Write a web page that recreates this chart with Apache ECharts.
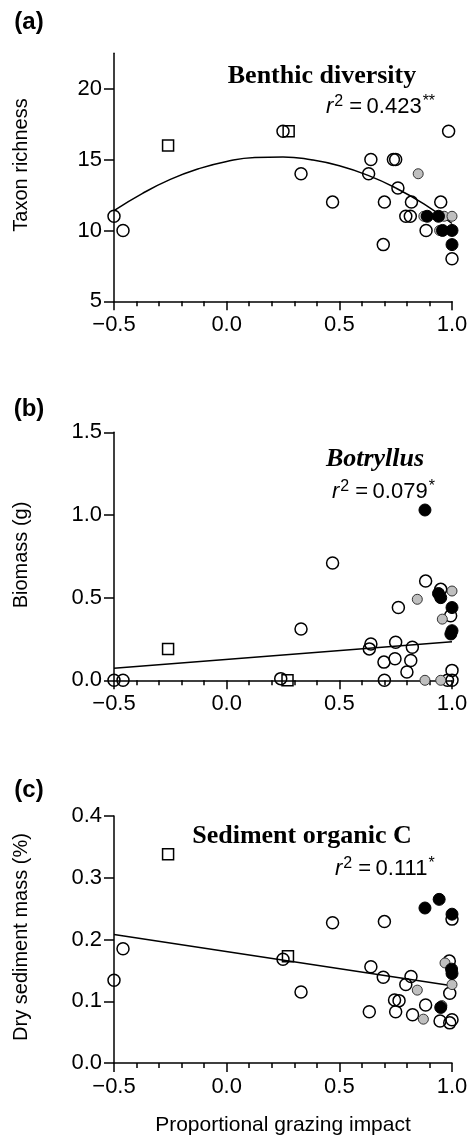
<!DOCTYPE html>
<html><head><meta charset="utf-8">
<script src="https://cdn.jsdelivr.net/npm/echarts@6/dist/echarts.min.js"></script>
<style>html,body{margin:0;padding:0;background:#fff}#c{width:475px;height:1140px}</style>
</head><body><div id="c"></div>
<script>
// ---------- data ----------
const xTicks = [-0.5, 0.0, 0.5, 1.0];
const yTicksA = [5, 10, 15, 20];
const yTicksB = [0.0, 0.5, 1.0, 1.5];
const yTicksC = [0.0, 0.1, 0.2, 0.3, 0.4];

// (a) Benthic diversity: taxon richness
const aOpen = [[-0.5,11],[-0.46,10],[0.25,17],[0.33,14],[0.47,12],[0.63,14],[0.64,15],[0.70,12],[0.695,9],
  [0.74,15],[0.75,15],[0.76,13],[0.795,11],[0.815,11],[0.82,12],[0.885,10],[0.95,12],[0.985,17],[1.0,8]];
const aGray = [[0.85,14],[0.875,11],[0.965,11],[1.0,11],[0.945,10]];
const aBlack = [[0.89,11],[0.94,11],[0.958,10],[1.0,10],[1.0,9]];
const aSquare = [[-0.26,16],[0.275,17]];
const aFit = [[-0.5,11.40],[-0.375,12.60],[-0.25,13.60],[-0.125,14.35],[0,14.87],[0.125,15.15],[0.25,15.19],
  [0.375,14.99],[0.5,14.57],[0.625,13.90],[0.75,13.00],[0.875,11.87],[1.0,10.49]];

// (b) Botryllus biomass (g)
const bOpen = [[-0.5,0],[-0.46,0],[0.24,0.01],[0.33,0.31],[0.47,0.71],[0.633,0.19],[0.64,0.22],[0.698,0.11],
  [0.70,0.0],[0.75,0.23],[0.747,0.13],[0.762,0.44],[0.80,0.05],[0.824,0.2],[0.817,0.12],[0.883,0.60],
  [0.95,0.55],[0.994,0.39],[1.0,0.06],[0.98,0.0],[1.0,0.0]];
const bGray = [[0.846,0.49],[1.0,0.54],[0.957,0.37],[0.88,0.0],[0.95,0.0]];
const bBlack = [[0.88,1.03],[0.94,0.525],[0.95,0.50],[1.0,0.44],[1.0,0.30],[0.995,0.28]];
const bSquare = [[-0.26,0.19],[0.27,0.0]];
const bFit = [[-0.5,0.0725],[1.0,0.233]];

// (c) Sediment organic C: dry sediment mass (%)
const cOpen = [[-0.5,0.134],[-0.46,0.185],[0.25,0.168],[0.33,0.115],[0.47,0.227],[0.633,0.083],[0.64,0.156],
  [0.70,0.229],[0.695,0.139],[0.745,0.102],[0.75,0.083],[0.765,0.101],[0.795,0.127],[0.818,0.14],[0.825,0.078],
  [0.883,0.094],[0.947,0.068],[0.988,0.165],[0.99,0.113],[0.99,0.065],[1.0,0.07],[1.0,0.233]];
const cGray = [[0.846,0.118],[0.873,0.071],[0.955,0.093],[0.969,0.162],[1.0,0.127]];
const cBlack = [[0.88,0.251],[0.943,0.265],[1.0,0.241],[1.0,0.145],[0.998,0.152],[0.95,0.09]];
const cSquare = [[-0.26,0.338],[0.272,0.173]];
const cFit = [[-0.5,0.208],[1.0,0.125]];

// ---------- chart ----------
const SANS = 'Liberation Sans, Arial, sans-serif';
const SERIF = 'Liberation Serif, Times New Roman, serif';
const chart = echarts.init(document.getElementById('c'));
const fmtX = v => (v < 0 ? '\u2212' : '') + Math.abs(v).toFixed(1);

const grids = [
  {left:114, top:53.3, width:338, height:248},
  {left:114, top:432.3, width:338, height:248},
  {left:114, top:816, width:338, height:247}
];
function xAx(i){
  return {gridIndex:i, type:'value', min:-0.5, max:1.0, interval:0.5,
    axisLine:{show:true, onZero:false, lineStyle:{color:'#000', width:1.5}},
    axisTick:{show:true, length:9, lineStyle:{color:'#000', width:1.5}, customValues: xTicks},
    minorTick:{show:true, splitNumber:5, length:5, lineStyle:{color:'#000', width:1.5}},
    splitLine:{show:false}, minorSplitLine:{show:false},
    axisLabel:{color:'#000', fontFamily:SANS, fontSize:22, margin:13, formatter:fmtX, customValues: xTicks}};
}
function yAx(i, min, max, interval, ticks, dec){
  return {gridIndex:i, type:'value', min:min, max:max, interval:interval,
    axisLine:{show:true, onZero:false, lineStyle:{color:'#000', width:1.5}},
    axisTick:{show:true, length:10, lineStyle:{color:'#000', width:1.5}, customValues: ticks},
    splitLine:{show:false},
    axisLabel:{color:'#000', fontFamily:SANS, fontSize:22, margin:12,
      formatter: v => v.toFixed(dec), customValues: ticks}};
}
function pts(i, data, kind){
  const base = {type:'scatter', xAxisIndex:i, yAxisIndex:i, data:data, silent:true, z:3};
  if (kind==='open') return Object.assign(base, {symbol:'circle', symbolSize:12,
     itemStyle:{color:'rgba(0,0,0,0)', borderColor:'#000', borderWidth:1.5, opacity:1}});
  if (kind==='gray') return Object.assign(base, {symbol:'circle', symbolSize:10, z:4,
     itemStyle:{color:'#bfbfbf', borderColor:'#333', borderWidth:1, opacity:1}});
  if (kind==='black') return Object.assign(base, {symbol:'circle', symbolSize:12, z:5,
     itemStyle:{color:'#000', borderColor:'#000', borderWidth:1, opacity:1}});
  return Object.assign(base, {symbol:'rect', symbolSize:11,
     itemStyle:{color:'rgba(0,0,0,0)', borderColor:'#000', borderWidth:1.5, opacity:1}});
}
function fit(i, data, smooth){
  return {type:'line', xAxisIndex:i, yAxisIndex:i, data:data, smooth:smooth, symbol:'none', silent:true, z:2,
    lineStyle:{color:'#000', width:1.5}};
}
function rsq(x, y, val, stars){
  return {type:'text', left:x, top:y, silent:true, style:{
    text:'{i|r}{s|2}{n| =\u2009' + val + '}{s|' + stars + '}',
    rich:{
      i:{fontFamily:SANS, fontStyle:'italic', fontSize:22, fill:'#000', lineHeight:24, verticalAlign:'bottom'},
      s:{fontFamily:SANS, fontSize:16, fill:'#000', lineHeight:24, verticalAlign:'top', padding:[0,0,0,1]},
      n:{fontFamily:SANS, fontSize:22, fill:'#000', lineHeight:24, verticalAlign:'bottom'}
    }}};
}
function label(x, y, t, opt){
  return Object.assign({type:'text', x:x, y:y, silent:true,
    style:Object.assign({text:t, fill:'#000', fontFamily:SANS, fontSize:22, align:'center', verticalAlign:'middle'}, opt||{})});
}

const option = {
  animation:false,
  backgroundColor:'#fff',
  grid: grids,
  xAxis: [xAx(0), xAx(1), xAx(2)],
  yAxis: [yAx(0,5,22.5,5,yTicksA,0), yAx(1,0,1.5,0.5,yTicksB,1), yAx(2,0,0.4,0.1,yTicksC,1)],
  series: [
    fit(0,aFit,true), pts(0,aOpen,'open'), pts(0,aSquare,'sq'), pts(0,aGray,'gray'), pts(0,aBlack,'black'),
    fit(1,bFit,false), pts(1,bOpen,'open'), pts(1,bSquare,'sq'), pts(1,bGray,'gray'), pts(1,bBlack,'black'),
    fit(2,cFit,false), pts(2,cOpen,'open'), pts(2,cSquare,'sq'), pts(2,cGray,'gray'), pts(2,cBlack,'black')
  ],
  graphic: [
    label(29, 22, '(a)', {fontWeight:'bold', fontSize:24}),
    label(29, 409, '(b)', {fontWeight:'bold', fontSize:24}),
    label(29, 790, '(c)', {fontWeight:'bold', fontSize:24}),
    Object.assign(label(21, 165, 'Taxon richness', {fontSize:20}), {rotation:Math.PI/2}),
    Object.assign(label(21, 555, 'Biomass (g)', {fontSize:20}), {rotation:Math.PI/2}),
    Object.assign(label(21, 937, 'Dry sediment mass (%)', {fontSize:20}), {rotation:Math.PI/2}),
    label(283, 1125, 'Proportional grazing impact', {fontSize:21}),
    label(322, 76, 'Benthic diversity', {fontFamily:SERIF, fontWeight:'bold', fontSize:26}),
    label(375, 459, 'Botryllus', {fontFamily:SERIF, fontWeight:'bold', fontStyle:'italic', fontSize:26}),
    label(302, 836, 'Sediment organic C', {fontFamily:SERIF, fontWeight:'bold', fontSize:26}),
    rsq(326, 94, '0.423', '**'),
    rsq(332, 479, '0.079', '*'),
    rsq(335, 856, '0.111', '*')
  ]
};
chart.setOption(option);
</script></body></html>
